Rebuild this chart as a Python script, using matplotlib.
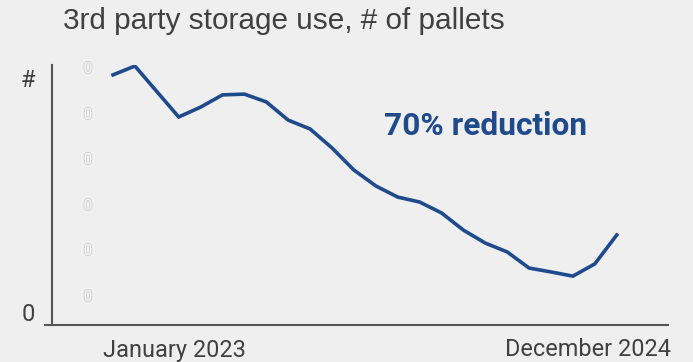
import matplotlib.pyplot as plt
import matplotlib.patheffects as pe
import numpy as np

# monthly pallets in 3rd party storage, Jan 2023 .. Dec 2024 (index, 100 = axis top)
months = np.arange(24)
pallets = [96.2, 99.6, 89.8, 80.0, 83.8, 88.5, 88.8, 85.8, 78.8, 75.4, 68.1, 59.6,
           53.5, 49.2, 47.3, 43.1, 36.5, 31.5, 28.1, 21.9, 20.4, 18.8, 23.5, 34.6]
ytick_pos = [5, 95]
ytick_labels = ['0', '#']
ghost_pos = [98.5, 80.8, 63.5, 45.8, 28.5, 10.8]

BG = '#efefef'
BLUE = '#1f4a8c'
GREY = '#404040'

W, H = 693, 362
fig = plt.figure(figsize=(W / 100, H / 100), dpi=100, facecolor=BG)
ax = fig.add_axes([45 / W, 1 - 325 / H, (668 - 45) / W, (325 - 65) / H], facecolor=BG)

ax.plot(months, pallets, color=BLUE, lw=2.6, solid_joinstyle='miter')

# x: pixel 113 -> month 0, 21.9 px per month
step = 21.9
ax.set_xlim((45 - 113) / step, (668 - 113) / step)
ax.set_ylim(0, 100)

for s in ['top', 'right']:
    ax.spines[s].set_visible(False)
ax.spines['left'].set_position(('data', (52 - 113) / step))
for s in ['left', 'bottom']:
    ax.spines[s].set_color('#555555')
    ax.spines[s].set_linewidth(1.5)

ax.set_xticks([])
ax.set_yticks(ytick_pos, ytick_labels)
ax.tick_params(axis='y', length=0, pad=12, labelsize=17, labelcolor=GREY)
for lab in ax.get_yticklabels():
    lab.set_fontfamily('Roboto')

for v in ghost_pos:
    ax.text((88 - 113) / step, v, '0', color='#f7f7f7', fontsize=11,
            ha='center', va='center', family='Roboto',
            path_effects=[pe.withStroke(linewidth=1.2, foreground='#cfcfcf')])

fig.text(63 / W, 1 - 21 / H, '3rd party storage use, # of pallets', fontsize=21.4,
         color=GREY, family='Liberation Sans', ha='left', va='center')
ax.text((384 - 113) / step, (325 - 126) / 260 * 100, '70% reduction', fontsize=22.8,
        fontweight='bold', color=BLUE, family='Roboto', ha='left', va='center')
fig.text(174 / W, 1 - 350 / H, 'January 2023', fontsize=16.9, color=GREY,
         family='Roboto', ha='center', va='center')
fig.text(671 / W, 1 - 350 / H, 'December 2024', fontsize=16.9, color=GREY,
         family='Roboto', ha='right', va='center')

fig.savefig('out.png', dpi=100, facecolor=BG)
